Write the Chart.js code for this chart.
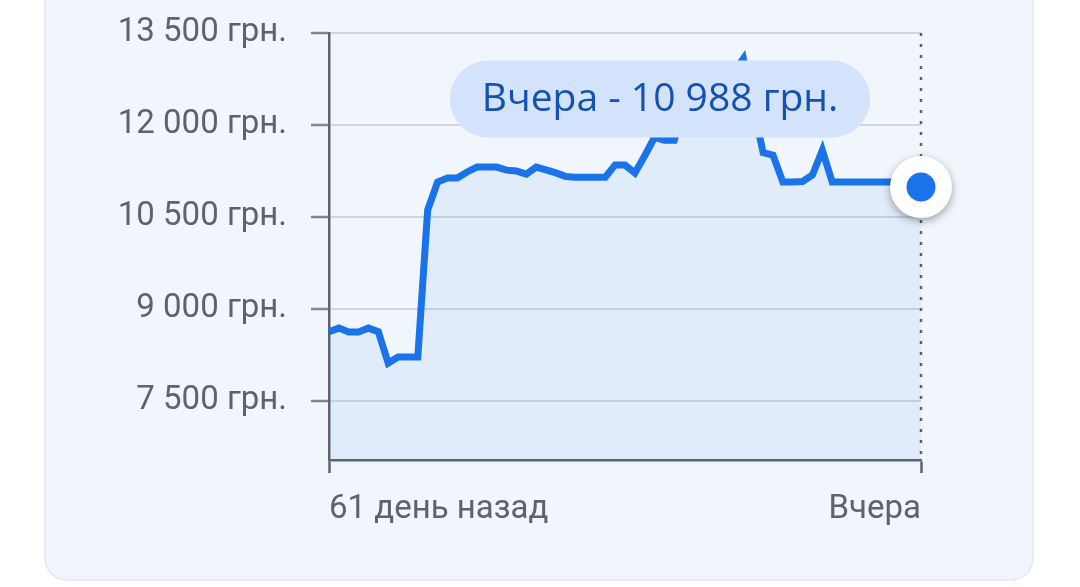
<!DOCTYPE html>
<html>
<head>
<meta charset="utf-8">
<script src="https://cdn.jsdelivr.net/npm/chart.js@4"></script>
<style>
  html, body { margin: 0; padding: 0; background: #ffffff; }
  #wrap { width: 1080px; height: 587px; position: relative; }
</style>
</head>
<body>
<div id="wrap"><canvas id="grafico"></canvas></div>
<script>
// días hacia atrás: 61 ... 1 (1 = вчера)
const daysAgo = Array.from({ length: 61 }, (_, i) => 61 - i);

// valores (грн.)
const prices = [
  8630, 8690, 8625, 8625, 8690, 8630, 8120, 8220, 8220, 8220,
  10615, 11070, 11135, 11135, 11235, 11315, 11315, 11315, 11265, 11250,
  11200, 11315, 11270, 11220, 11160, 11150, 11150, 11150, 11150, 11350,
  11350, 11220, 11500, 11800, 11750, 11750, 12300, 12700, 12950, 12800,
  12750, 12850, 13080, 12300, 11550, 11510, 11070, 11070, 11080, 11185,
  11590, 11070, 11070, 11070, 11070, 11070, 11070, 11070, 11040, 11010,
  10988
];

const yTicks = [7500, 9000, 10500, 12000, 13500];
const yMin = 6540;
const yMax = 13500;

const GRAY = '#5f6368';
const BLUE = '#1a73e8';

function fmt(v) {
  return String(v).replace(/\B(?=(\d{3})+(?!\d))/g, ' ') + ' грн.';
}
function dayLabel(d) {
  return d === 1 ? 'Вчера' : d + ' день назад';
}

// fondo de la tarjeta
const cardPlugin = {
  id: 'card',
  beforeDraw(chart) {
    const ctx = chart.ctx;
    ctx.save();
    ctx.fillStyle = '#ffffff';
    ctx.fillRect(0, 0, chart.width, chart.height);
    ctx.beginPath();
    ctx.roundRect(45, -40, 988, 620, 22);
    ctx.fillStyle = '#f1f6fd';
    ctx.fill();
    ctx.strokeStyle = '#e3e8ef';
    ctx.lineWidth = 1.5;
    ctx.stroke();
    ctx.restore();
  }
};

// línea punteada en el último día
const dotLinePlugin = {
  id: 'dotLine',
  beforeDatasetsDraw(chart) {
    const { ctx, chartArea, scales } = chart;
    const x = scales.x.getPixelForValue(prices.length - 1);
    ctx.save();
    ctx.strokeStyle = GRAY;
    ctx.lineWidth = 2.5;
    ctx.setLineDash([3, 8]);
    ctx.beginPath();
    ctx.moveTo(x, chartArea.top);
    ctx.lineTo(x, chartArea.bottom);
    ctx.stroke();
    ctx.restore();
  }
};

// punto final + etiqueta tipo píldora
const markerPlugin = {
  id: 'marker',
  afterDatasetsDraw(chart) {
    const ctx = chart.ctx;
    const meta = chart.getDatasetMeta(0);
    const last = meta.data[meta.data.length - 1];
    ctx.save();
    ctx.shadowColor = 'rgba(0,0,0,0.35)';
    ctx.shadowBlur = 8;
    ctx.shadowOffsetY = 3;
    ctx.beginPath();
    ctx.arc(last.x, last.y, 31, 0, Math.PI * 2);
    ctx.fillStyle = '#ffffff';
    ctx.fill();
    ctx.restore();

    ctx.save();
    ctx.beginPath();
    ctx.arc(last.x, last.y, 14.5, 0, Math.PI * 2);
    ctx.fillStyle = BLUE;
    ctx.fill();

    const text = dayLabel(daysAgo[daysAgo.length - 1]) + ' - ' + fmt(prices[prices.length - 1]);
    ctx.font = '500 39px "Open Sans", sans-serif';
    const w = ctx.measureText(text).width;
    const cx = 660, cy = 99, h = 77;
    ctx.beginPath();
    ctx.roundRect(cx - w / 2 - 32, cy - h / 2, w + 64, h, h / 2);
    ctx.fillStyle = '#d3e3fc';
    ctx.fill();
    ctx.fillStyle = '#1451b0';
    ctx.textAlign = 'center';
    ctx.textBaseline = 'middle';
    ctx.fillText(text, cx, cy + 1);
    ctx.restore();
  }
};

new Chart(document.getElementById('grafico').getContext('2d'), {
  type: 'line',
  data: {
    labels: daysAgo,
    datasets: [{
      data: prices,
      borderColor: BLUE,
      borderWidth: 7,
      backgroundColor: 'rgba(26,115,232,0.075)',
      fill: 'start',
      tension: 0,
      pointRadius: 0,
      pointHoverRadius: 0
    }]
  },
  options: {
    responsive: true,
    maintainAspectRatio: false,
    animation: false,
    events: [],
    layout: { padding: { left: 0, right: 159, top: 33, bottom: 0 } },
    plugins: {
      legend: { display: false },
      tooltip: { enabled: false }
    },
    scales: {
      x: {
        type: 'category',
        offset: false,
        afterBuildTicks(scale) {
          scale.ticks = [{ value: 0 }, { value: daysAgo.length - 1 }];
        },
        afterFit(scale) { scale.height = 127; },
        border: { display: true, color: GRAY, width: 2.5 },
        grid: { drawOnChartArea: false, drawTicks: true, tickLength: 13, tickColor: GRAY, tickWidth: 2.5 },
        ticks: {
          autoSkip: false,
          maxRotation: 0,
          align: 'inner',
          padding: 17,
          color: GRAY,
          font: { family: 'Roboto', size: 33 },
          callback: (v, i) => dayLabel(daysAgo[v])
        }
      },
      y: {
        min: yMin,
        max: yMax,
        afterBuildTicks(scale) {
          scale.ticks = yTicks.map(v => ({ value: v }));
        },
        afterFit(scale) {
          scale.width = 329;
          scale.paddingTop = 0;
          scale.paddingBottom = 0;
        },
        border: { display: true, color: GRAY, width: 2.5 },
        grid: { color: '#d2d6dc', lineWidth: 2, drawTicks: true, tickLength: 18, tickColor: '#80868b', tickWidth: 2.5 },
        ticks: {
          padding: 24,
          color: GRAY,
          font: { family: 'Roboto', size: 33 },
          callback: v => fmt(v)
        }
      }
    }
  },
  plugins: [cardPlugin, dotLinePlugin, markerPlugin]
});
</script>
</body>
</html>
